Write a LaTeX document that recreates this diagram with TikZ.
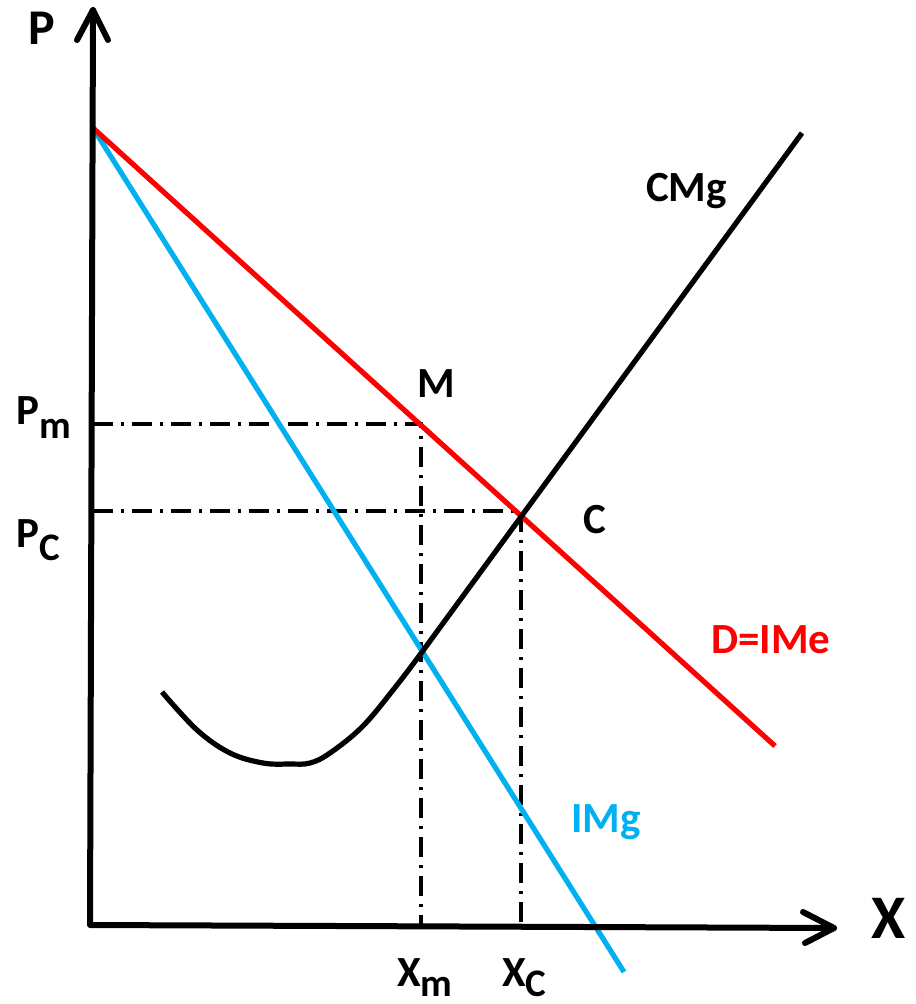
\documentclass[tikz,border=0pt]{standalone}
\usepackage{fontspec}
\setmainfont{Carlito}
\definecolor{dred}{RGB}{255,0,0}
\definecolor{dblue}{RGB}{0,176,240}
\newcommand{\lbl}{\fontsize{21.5}{24}\selectfont\bfseries}
\newcommand{\sbl}[1]{\raisebox{-6.5pt}{\fontsize{19.5}{22}\selectfont\bfseries #1}}
\newcommand{\sblx}[1]{\raisebox{-5pt}{\fontsize{19.5}{22}\selectfont\bfseries #1}}
\tikzset{
  axisline/.style={line width=3pt, line join=round, line cap=round},
  curve/.style={line width=2.6pt},
  guide/.style={line width=1.8pt, dash pattern=on 10pt off 4pt on 1.5pt off 4pt},
  txt/.style={anchor=base west, inner sep=0pt, outer sep=0pt}
}
\begin{document}
\begin{tikzpicture}[x=0.5pt,y=-0.5pt]
\useasboundingbox (0,0) rectangle (915,1004);
% key points
\coordinate (ytip) at (93,10);
\coordinate (orig) at (90,925);
\coordinate (xtip) at (834,928);
\coordinate (A) at (93,128);
\coordinate (Dend) at (775,746);
\coordinate (Gend) at (624,972);
\coordinate (Mpt) at (421,424);
\coordinate (PmY) at (93,424);
\coordinate (PcY) at (93,511);
\coordinate (XmX) at (421,925);
\coordinate (XcX) at (521,926);
\coordinate (Cg) at (521,511);
\coordinate (Cend) at (802,133);
% guides
\draw[guide] (PmY) -- (Mpt) -- (XmX);
\draw[guide] (PcY) -- (Cg) -- (XcX);
% curves
\draw[curve, dblue] (A) -- (Gend);
\draw[curve, dred] (A) -- (Dend);
\draw[curve, black, line join=round] plot[smooth, tension=0.6] coordinates {(162,692) (197,730) (230,753) (263,763) (290,764) (310,763) (330,753) (363,726) (397,685) (422,652)} -- (Cend);
% axes
\draw[axisline] (ytip) -- (orig) -- (xtip);
\draw[axisline] (77,40) -- (ytip) -- (108,40);
\draw[axisline] (803,912) -- (xtip) -- (805,943);
% labels
\node[txt] (lP) at (28,45) {\fontsize{25}{28}\selectfont\bfseries P};
\node[txt] (lX) at (871,938) {\fontsize{31}{34}\selectfont\bfseries X};
\node[txt] (lPm) at (17,425) {\lbl P\sbl{m}};
\node[txt] (lPc) at (17,547) {\lbl P\sbl{C}};
\node[txt] (lXm) at (397,986) {\lbl X\sblx{m}};
\node[txt] (lXc) at (502,986) {\lbl X\sblx{C}};
\node[txt] (lM) at (417,398) {\lbl M};
\node[txt] (lC) at (583,533) {\lbl C};
\node[txt] (lCMg) at (646,202) {\lbl CMg};
\node[txt, text=dred] (lD) at (711,653) {\lbl D=IMe};
\node[txt, text=dblue] (lIMg) at (571,832) {\lbl IMg};
\end{tikzpicture}
\end{document}
